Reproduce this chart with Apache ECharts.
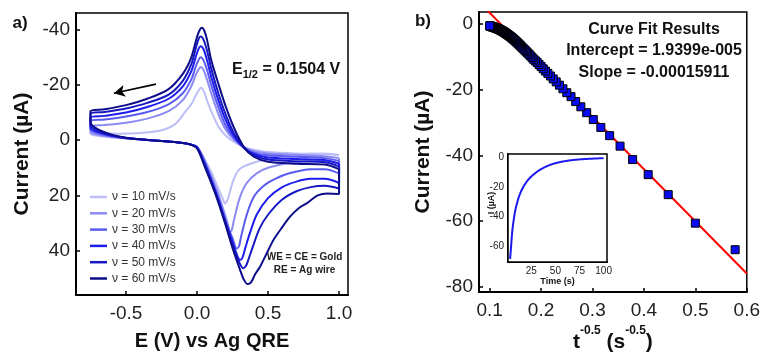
<!DOCTYPE html>
<html><head><meta charset="utf-8">
<script src="https://cdn.jsdelivr.net/npm/echarts@6/dist/echarts.min.js"></script>
<style>html,body{margin:0;padding:0;background:#fff}#c{width:763px;height:358px}</style>
</head><body><div id="c"></div><script>
// ---------- Panel a: cyclic voltammograms (E in V, current in µA) ----------
const scanRateLabels = ['ν = 10 mV/s','ν = 20 mV/s','ν = 30 mV/s','ν = 40 mV/s','ν = 50 mV/s','ν = 60 mV/s'];
const cvXTicks = [-0.5, 0, 0.5, 1.0];
const cvYTicks = [-40, -20, 0, 20, 40];

const cv10Top = [[1.0,5.5],[0.9,5.0],[0.7,4.8],[0.5,4.3],[0.4,3.5],[0.33,2.5],[0.26,0.5],[0.2,-1.8],[0.15,-5],[0.1,-10.5],[0.07,-14.5],[0.05,-17.5],[0.03,-19],[0.01,-18],[-0.01,-16],[-0.04,-13],[-0.08,-10.5],[-0.15,-6],[-0.25,-3.6],[-0.4,-2.6],[-0.55,-2.3],[-0.7,-2.6],[-0.75,-3]];
const cv10Bottom = [[-0.75,-2.2],[-0.7,-1.6],[-0.6,-1.0],[-0.5,-0.6],[-0.4,-0.3],[-0.3,0.1],[-0.2,0.5],[-0.1,1.0],[-0.05,1.5],[0,2.3],[0.05,6.5],[0.1,11.5],[0.15,17.5],[0.18,21],[0.197,22.9],[0.215,21.5],[0.235,18],[0.256,14.5],[0.29,11],[0.326,9.6],[0.42,7.8],[0.55,6],[0.655,5.4],[0.8,4.9],[0.889,4.8],[1.0,5.4]];

const cv20Top = [[1.0,6.5],[0.9,5.8],[0.7,5.3],[0.5,4.8],[0.4,4],[0.33,2.5],[0.26,-0.2],[0.2,-4],[0.15,-9.5],[0.1,-17],[0.07,-22],[0.045,-25.5],[0.025,-26.5],[0.01,-25.5],[-0.01,-23.5],[-0.04,-19.5],[-0.1,-14.5],[-0.2,-10.5],[-0.35,-7.8],[-0.5,-6.3],[-0.65,-5.5],[-0.75,-5]];
const cv20Bottom = [[-0.75,-3],[-0.7,-2],[-0.6,-1.2],[-0.5,-0.7],[-0.4,-0.3],[-0.3,0.1],[-0.2,0.5],[-0.1,1.0],[-0.05,1.5],[0,2.4],[0.05,7],[0.1,13],[0.15,19.5],[0.2,27.5],[0.22,31],[0.232,33.2],[0.245,32.5],[0.26,29],[0.3,21],[0.35,15.5],[0.42,12],[0.5,10],[0.65,8.3],[0.8,7.5],[0.9,7.5],[1.0,8.5]];

const cv30Top = [[1.0,7.5],[0.9,6.5],[0.7,6],[0.5,5.5],[0.4,4.5],[0.33,2.6],[0.26,-0.8],[0.2,-5.5],[0.15,-12],[0.1,-20],[0.07,-25.5],[0.045,-29],[0.025,-30],[0.01,-29],[-0.01,-26.5],[-0.04,-22],[-0.1,-17],[-0.2,-13],[-0.35,-10.2],[-0.5,-8.6],[-0.65,-7.5],[-0.75,-7]];
const cv30Bottom = [[-0.75,-4],[-0.7,-2.6],[-0.6,-1.4],[-0.5,-0.7],[-0.4,-0.3],[-0.3,0.1],[-0.2,0.5],[-0.1,1.0],[-0.05,1.5],[0,2.5],[0.05,7.5],[0.1,14],[0.15,21],[0.2,29],[0.25,35.5],[0.279,39.2],[0.295,38.5],[0.31,35],[0.35,27],[0.4,20.5],[0.47,16.5],[0.55,14],[0.65,12],[0.8,10.5],[0.9,10.5],[1.0,12]];

const cv40Top = [[1.0,8.5],[0.9,7.2],[0.7,6.8],[0.5,6.3],[0.4,5],[0.33,2.8],[0.26,-1.5],[0.2,-7.5],[0.15,-14.5],[0.1,-23],[0.07,-29],[0.045,-33],[0.025,-34],[0.01,-33],[-0.01,-30],[-0.04,-25],[-0.1,-19.5],[-0.2,-15],[-0.35,-12],[-0.5,-10],[-0.65,-8.8],[-0.75,-8.2]];
const cv40Bottom = [[-0.75,-4.5],[-0.7,-3],[-0.6,-1.6],[-0.5,-0.8],[-0.4,-0.3],[-0.3,0.1],[-0.2,0.5],[-0.1,1.0],[-0.05,1.5],[0,2.6],[0.05,8],[0.1,14.5],[0.15,21.5],[0.2,29.5],[0.25,37],[0.285,42],[0.303,43.4],[0.32,42.5],[0.34,39],[0.37,34],[0.42,27],[0.5,21],[0.6,17],[0.7,15],[0.8,14],[0.9,14],[1.0,15.5]];

const cv50Top = [[1.0,9.5],[0.9,8],[0.7,7.6],[0.5,7],[0.4,5.5],[0.33,2.8],[0.26,-2.5],[0.2,-9.5],[0.15,-17],[0.1,-26],[0.07,-32.5],[0.045,-36.5],[0.025,-37.5],[0.01,-36.5],[-0.01,-33],[-0.04,-27.5],[-0.1,-21.5],[-0.2,-16.5],[-0.35,-13.5],[-0.5,-11.5],[-0.65,-10.2],[-0.75,-9.6]];
const cv50Bottom = [[-0.75,-5.5],[-0.7,-3.5],[-0.6,-1.8],[-0.5,-0.8],[-0.4,-0.3],[-0.3,0.1],[-0.2,0.5],[-0.1,1.0],[-0.05,1.5],[0,2.7],[0.05,8.5],[0.1,15],[0.15,22],[0.2,30],[0.25,38],[0.3,44.5],[0.326,46.4],[0.345,45.5],[0.36,43.5],[0.39,39],[0.44,32],[0.5,27],[0.6,21.5],[0.7,18.5],[0.8,17],[0.9,16.5],[1.0,17.5]];

const cv60Top = [[1.0,10.5],[0.9,8.8],[0.7,8.5],[0.5,7.8],[0.4,6],[0.33,2.5],[0.26,-4.5],[0.2,-12.5],[0.15,-20.5],[0.1,-29],[0.07,-36.5],[0.05,-39.8],[0.035,-40.7],[0.02,-40],[0,-37.4],[-0.04,-30],[-0.1,-24],[-0.2,-18.5],[-0.35,-15],[-0.5,-12.7],[-0.65,-11.2],[-0.75,-10.5]];
const cv60Bottom = [[-0.75,-6.5],[-0.7,-4],[-0.6,-2],[-0.5,-0.9],[-0.4,-0.3],[-0.3,0.1],[-0.2,0.5],[-0.1,1.0],[-0.05,1.5],[0,3],[0.05,9],[0.1,15.5],[0.15,22.5],[0.2,30.5],[0.25,39],[0.3,46.5],[0.33,50.5],[0.357,52.1],[0.38,51.5],[0.41,48.5],[0.444,45.8],[0.5,40],[0.537,36.2],[0.6,31.5],[0.655,27.7],[0.72,24.5],[0.772,22.9],[0.85,20],[0.92,19.3],[1.0,19.5]];

const scanArrow = [[-0.289,-20.3],[-0.585,-17.0]];

// ---------- Panel b: chronoamperometry ----------
const chronoTime = [3,4,5,6,7,8,9,10,11,12,13,14,15,16,17,18,19,20,21,22,23,24,25,26,27,28,29,30,31,32,33,34,35,36,37,38,39,40,41,42,43,44,45,46,47,48,49,50,51,52,53,54,55,56,57,58,59,60,61,62,63,64,65,66,67,68,69,70,71,72,73,74,75,76,77,78,79,80,81,82,83,84,85,86,87,88,89,90,91,92,93,94,95,96,97,98,99,100];
const chronoCurrent = [-68.8,-60.7,-52.0,-45.9,-41.3,-37.2,-34.0,-31.5,-29.1,-27.0,-25.2,-23.6,-22.1,-20.9,-19.7,-18.6,-17.6,-16.7,-15.8,-15.0,-14.3,-13.6,-12.9,-12.3,-11.7,-11.2,-10.7,-10.2,-9.7,-9.2,-8.8,-8.4,-8.0,-7.6,-7.3,-6.95,-6.6,-6.3,-6.0,-5.7,-5.45,-5.2,-4.95,-4.7,-4.5,-4.3,-4.1,-3.9,-3.75,-3.6,-3.45,-3.3,-3.15,-3.0,-2.88,-2.76,-2.64,-2.52,-2.42,-2.32,-2.22,-2.13,-2.04,-1.96,-1.88,-1.8,-1.73,-1.66,-1.6,-1.54,-1.48,-1.42,-1.37,-1.32,-1.27,-1.22,-1.18,-1.14,-1.1,-1.06,-1.02,-0.98,-0.95,-0.92,-0.89,-0.86,-0.83,-0.8,-0.77,-0.74,-0.71,-0.68,-0.65,-0.62,-0.59,-0.56,-0.53,-0.5];
const fitIntercept = 1.9399e-005;   // A
const fitSlope = -0.00015911;       // A s^0.5
const fitRange = [0.09, 0.6];
const cottXTicks = [0.1,0.2,0.3,0.4,0.5,0.6];
const cottYTicks = [-80,-60,-40,-20,0];
const insetXTicks = [25,50,75,100];
const insetYTicks = [-60,-40,-20,0];
const insetYMinor = [-70,-60,-50,-40,-30,-20,-10,0];

// ---------- build ----------
const cvColors = ['#bdbdf7','#8b8bf3','#5b5bf0','#1c1ced','#1818c2','#0d0d8a'];
const cvSets = [[cv10Top,cv10Bottom],[cv20Top,cv20Bottom],[cv30Top,cv30Bottom],[cv40Top,cv40Bottom],[cv50Top,cv50Bottom],[cv60Top,cv60Bottom]];
const FONT = '"Liberation Sans", Arial, Helvetica, sans-serif';
const scatterData = chronoTime.map((t,i)=>[Math.pow(t,-0.5), chronoCurrent[i]]);
const insetData = chronoTime.map((t,i)=>[t, chronoCurrent[i]]);
const fitData = fitRange.map(x=>[x, (fitIntercept + fitSlope*x)*1e6]);

function frameAxis(o){
  return Object.assign({
    type:'value', splitLine:{show:false},
    axisLine:{show:true, onZero:false, lineStyle:{color:'#000', width:2}},
    axisTick:{show:true, inside:true, length:4, lineStyle:{color:'#000', width:1.5}},
    axisLabel:{color:'#222', fontSize:19, fontFamily:FONT},
    nameLocation:'middle',
    nameTextStyle:{color:'#111', fontSize:20, fontWeight:'bold', fontFamily:FONT}
  }, o);
}

const series = cvSets.map((s,i)=>({
  name: scanRateLabels[i], type:'line', xAxisIndex:0, yAxisIndex:0,
  data: s[0].concat(s[1], [s[0][0]]), symbol:'none', smooth:0.3,
  lineStyle:{width:2, color:cvColors[i]}, itemStyle:{color:cvColors[i]}, z: 2+i
}));
series.push({
  type:'line', xAxisIndex:0, yAxisIndex:0, data:[], symbol:'none',
  markLine:{silent:true, symbol:['none','arrow'], symbolSize:[9,11],
    lineStyle:{color:'#000', width:1.6, type:'solid'}, label:{show:false},
    data:[[{coord:scanArrow[0]},{coord:scanArrow[1]}]]}
});
series.push({type:'line', xAxisIndex:1, yAxisIndex:1, data:fitData, symbol:'none', clip:true,
  lineStyle:{color:'#ff0000', width:2}, z:3});
series.push({type:'scatter', xAxisIndex:1, yAxisIndex:1, data:scatterData, symbol:'rect', symbolSize:8,
  itemStyle:{color:'#0b0bf2', borderColor:'#000', borderWidth:1, opacity:1}, z:4});
series.push({type:'line', xAxisIndex:2, yAxisIndex:2, data:insetData, symbol:'none', smooth:true,
  lineStyle:{color:'#1a1af0', width:2}, z:10});

const option = {
  animation:false,
  textStyle:{fontFamily:FONT},
  grid:[
    {left:76, top:13, width:272, height:282, show:true, borderColor:'#000', borderWidth:1.5},
    {left:479, top:12, width:270, height:282, show:true, borderColor:'#000', borderWidth:1.5},
    {left:508, top:154, width:99, height:108, show:true, borderColor:'#000', borderWidth:1.5, backgroundColor:'#fff', z:8}
  ],
  legend:{
    data:scanRateLabels, orient:'vertical', left:85, top:186, icon:'rect', itemWidth:17, itemHeight:2.5, itemGap:4.3,
    selectedMode:false, textStyle:{fontSize:12, color:'#333', fontFamily:FONT, lineHeight:12}
  },
  xAxis:[
    frameAxis({gridIndex:0, min:-0.852, max:1.063,
      axisTick:{show:true, inside:true, length:4, customValues:cvXTicks, lineStyle:{color:'#000', width:1.5}},
      axisLabel:{customValues:cvXTicks, formatter:v=>v.toFixed(1), color:'#222', fontSize:19, margin:9, fontFamily:FONT},
      name:'E (V) vs Ag QRE', nameGap:36}),
    frameAxis({gridIndex:1, min:0.0793, max:0.6,
      axisTick:{show:true, inside:true, length:4, customValues:cottXTicks, lineStyle:{color:'#000', width:1.5}},
      axisLabel:{customValues:cottXTicks, formatter:v=>v.toFixed(1), color:'#222', fontSize:19, margin:9, fontFamily:FONT},
      name:'{b|t}{s|-0.5}{b| (s}{s|-0.5}{b|)}', nameGap:33,
      nameTextStyle:{rich:{
        b:{fontSize:21, fontWeight:'bold', color:'#111', fontFamily:FONT, lineHeight:28, verticalAlign:'bottom'},
        s:{fontSize:12, fontWeight:'bold', color:'#111', fontFamily:FONT, lineHeight:12, verticalAlign:'top'}}}}),
    frameAxis({gridIndex:2, min:0.83, max:103.5,
      axisTick:{show:true, inside:true, length:3, customValues:insetXTicks, lineStyle:{color:'#000', width:1}},
      axisLabel:{customValues:insetXTicks, color:'#222', fontSize:10, margin:4, fontFamily:FONT},
      axisLine:{show:true, onZero:false, lineStyle:{color:'#000', width:2}},
      name:'Time (s)', nameGap:14, nameTextStyle:{color:'#111', fontSize:9, fontWeight:'bold', fontFamily:FONT}})
  ],
  yAxis:[
    frameAxis({gridIndex:0, min:-46.05, max:56.06, inverse:true,
      axisTick:{show:true, inside:true, length:4, customValues:cvYTicks, lineStyle:{color:'#000', width:1.5}},
      axisLabel:{customValues:cvYTicks, color:'#222', fontSize:19, margin:6, fontFamily:FONT},
      name:'Current (µA)', nameGap:43, nameTextStyle:{color:'#111', fontSize:21, fontWeight:'bold', fontFamily:FONT}}),
    frameAxis({gridIndex:1, min:-81.7, max:3.72,
      axisTick:{show:true, inside:true, length:4, customValues:cottYTicks, lineStyle:{color:'#000', width:1.5}},
      axisLabel:{customValues:cottYTicks, color:'#222', fontSize:19, margin:6, fontFamily:FONT},
      name:'Current (µA)', nameGap:45, nameTextStyle:{color:'#111', fontSize:21, fontWeight:'bold', fontFamily:FONT}}),
    frameAxis({gridIndex:2, min:-70.9, max:2.3,
      axisTick:{show:true, inside:true, length:3, customValues:insetYMinor, lineStyle:{color:'#000', width:1}},
      axisLabel:{customValues:insetYTicks, color:'#222', fontSize:10, margin:4, fontFamily:FONT}})
  ],
  graphic:[
    {type:'text', x:20, y:23, style:{text:'a)', font:'bold 17px '+FONT, fill:'#111', align:'center', verticalAlign:'middle'}},
    {type:'text', x:423, y:21, style:{text:'b)', font:'bold 17px '+FONT, fill:'#111', align:'center', verticalAlign:'middle'}},
    {type:'text', x:232, y:71, style:{text:'{e|E}{s|1/2}{e| = 0.1504 V}', align:'left', verticalAlign:'middle',
      rich:{e:{fontSize:16, fontWeight:'bold', fill:'#111', fontFamily:FONT, verticalAlign:'top'},
            s:{fontSize:11, fontWeight:'bold', fill:'#111', fontFamily:FONT, verticalAlign:'top', padding:[8,0,0,0]}}}},
    {type:'text', x:304.5, y:257.5, style:{text:'WE = CE = Gold', font:'bold 10px '+FONT, fill:'#222', align:'center', verticalAlign:'middle'}},
    {type:'text', x:304.5, y:270.5, style:{text:'RE = Ag wire', font:'bold 10px '+FONT, fill:'#222', align:'center', verticalAlign:'middle'}},
    {type:'text', x:654, y:30, style:{text:'Curve Fit Results', font:'bold 16px '+FONT, fill:'#111', align:'center', verticalAlign:'middle'}},
    {type:'text', x:654, y:51, style:{text:'Intercept = 1.9399e-005', font:'bold 16px '+FONT, fill:'#111', align:'center', verticalAlign:'middle'}},
    {type:'text', x:654, y:72.5, style:{text:'Slope = -0.00015911', font:'bold 16px '+FONT, fill:'#111', align:'center', verticalAlign:'middle'}},
    {type:'text', x:491.5, y:203, rotation:Math.PI/2, z:100, style:{text:'I (µA)', font:'bold 9px '+FONT, fill:'#111', align:'center', verticalAlign:'middle'}}
  ],
  series: series
};
const chart = echarts.init(document.getElementById('c'), null, {renderer:'canvas'});
chart.setOption(option);
</script></body></html>
